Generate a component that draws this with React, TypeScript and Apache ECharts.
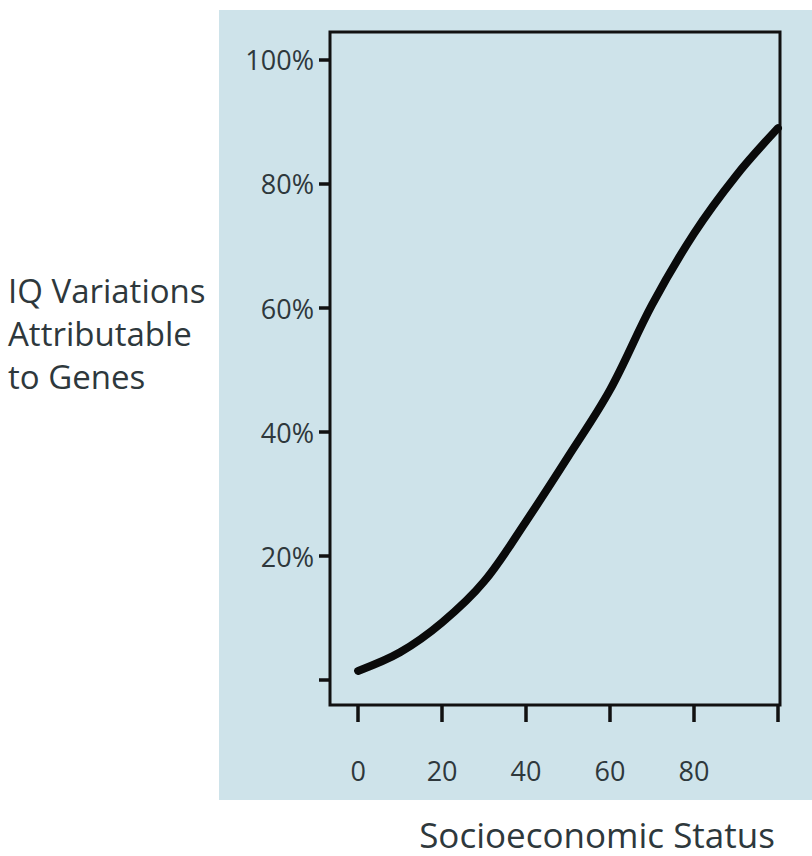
import React, { useEffect, useRef } from "react";
import * as echarts from "echarts";

const statusValues = [0, 10, 20, 30, 40, 50, 60, 70, 80, 90, 100];
const genePercent = [1.5, 4.5, 9.3, 15.9, 25.6, 36, 46.8, 60.5, 72, 81.3, 89];
const xTicks = [0, 20, 40, 60, 80, 100];
const xTickLabels = [0, 20, 40, 60, 80];
const yTicks = [0, 20, 40, 60, 80, 100];
const yTickLabels = [20, 40, 60, 80, 100];
const yTitleLines = ["IQ Variations", "Attributable", "to Genes"];
const xTitle = "Socioeconomic Status";

const FONT = "'Open Sans', 'Noto Sans', sans-serif";
const TEXT = "#2e383c";
const PANEL = "#cee3ea";

export default function App() {
  const ref = useRef<HTMLDivElement>(null);
  useEffect(() => {
    document.body.style.margin = "0";
    if (!ref.current) return;
    const chart = echarts.init(ref.current, null, { renderer: "svg" });
    chart.setOption({
      animation: false,
      backgroundColor: "#ffffff",
      graphic: [
        { type: "rect", z: -10, shape: { x: 219, y: 10, width: 600, height: 790 }, style: { fill: PANEL } },
        {
          type: "text",
          x: 8,
          y: 269,
          style: { text: yTitleLines.join("\n"), font: `33px ${FONT}`, fill: TEXT, lineHeight: 43 },
        },
        {
          type: "text",
          x: 597,
          y: 834,
          style: { text: xTitle, font: `35px ${FONT}`, fill: TEXT, align: "center", verticalAlign: "middle" },
        },
      ],
      grid: {
        left: 330,
        right: 32,
        top: 32,
        bottom: 151,
        show: true,
        borderColor: "#111",
        borderWidth: 3,
        backgroundColor: PANEL,
      },
      xAxis: {
        type: "value",
        min: -6.7,
        max: 100.5,
        splitLine: { show: false },
        axisLine: { show: false, onZero: false },
        axisTick: { show: true, customValues: xTicks, length: 17, lineStyle: { color: "#111", width: 3.5 } },
        axisLabel: {
          customValues: xTickLabels,
          margin: 52,
          fontSize: 27,
          fontFamily: FONT,
          color: TEXT,
        },
      },
      yAxis: {
        type: "value",
        min: -4,
        max: 104.5,
        splitLine: { show: false },
        axisLine: { show: false, onZero: false },
        axisTick: { show: true, customValues: yTicks, length: 11, lineStyle: { color: "#111", width: 3.5 } },
        axisLabel: {
          customValues: yTickLabels,
          margin: 16,
          fontSize: 27,
          fontFamily: FONT,
          color: TEXT,
          formatter: (v: number) => `${v}%`,
        },
      },
      series: [
        {
          type: "line",
          data: statusValues.map((x, i) => [x, genePercent[i]]),
          smooth: 0.35,
          showSymbol: false,
          lineStyle: { color: "#0a0a0a", width: 8, cap: "round" },
          z: 5,
        },
      ],
    });
    return () => chart.dispose();
  }, []);
  return <div ref={ref} style={{ width: 812, height: 856 }} />;
}
